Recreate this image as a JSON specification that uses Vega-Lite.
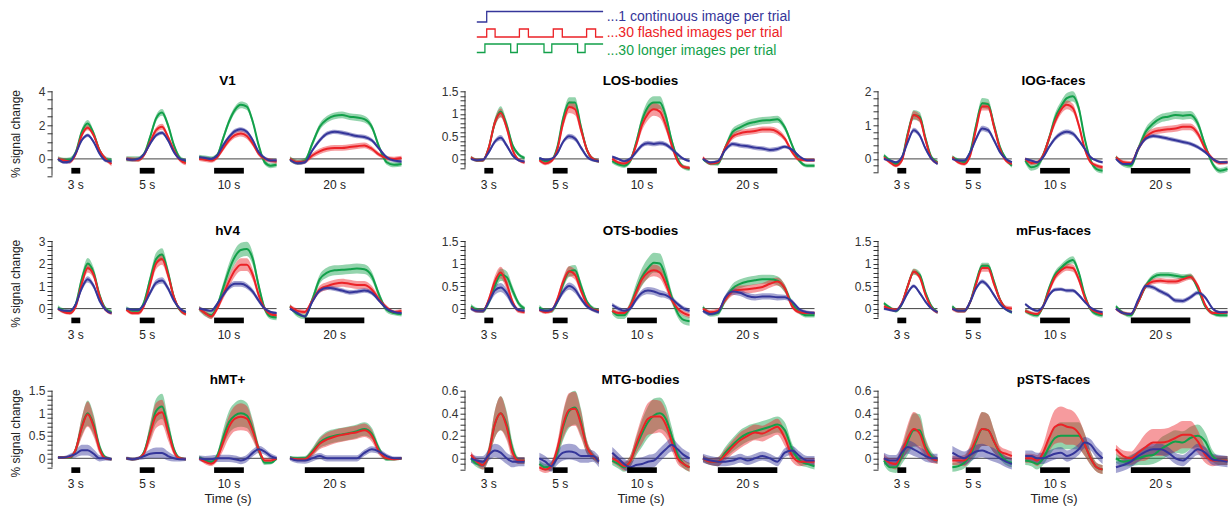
{
"$schema":"https://vega.github.io/schema/vega-lite/v6.json",
"autosize":{"type":"pad"},
"padding":{"left":8,"top":5,"right":0,"bottom":0},
"background":"#ffffff",
"config":{"view":{"stroke":null},"font":"Liberation Sans",
"title":{"font":"Liberation Sans","fontSize":13.5,"fontWeight":"bold","color":"#000","anchor":"middle","offset":-2,"frame":"group"},
"axis":{"grid":false,"domain":false,"labelFont":"Liberation Sans","labelFontSize":12,"labelColor":"#333","tickColor":"#333","tickSize":5,"labelPadding":2,"labelOverlap":false,"labelFlush":false,"titleFont":"Liberation Sans","titleFontWeight":"normal","titleColor":"#222"},
"axisY":{"titleFontSize":12,"titleX":-37,"titleBaseline":"middle"},
"axisX":{"titleFontSize":13,"titleY":23,"titleBaseline":"middle"},
"legend":{"disable":true}},
"datasets":{
"tr":[{"l":"3 s","s0":2,"s1":20,"o0":6.5,"o1":9.5,"m":8},{"l":"5 s","s0":25,"s1":45,"o0":29.5,"o1":34.5,"m":32},{"l":"10 s","s0":49.5,"s1":75.5,"o0":54.5,"o1":64.5,"m":59.5},{"l":"20 s","s0":80,"s1":117.5,"o0":85,"o1":105,"m":95}],
"leg":[{"c":"b","x":141.6,"y":6.6},{"c":"b","x":144.9,"y":8.7},{"c":"b","x":183.7,"y":8.7},
{"c":"r","x":141.6,"y":3.6},{"c":"r","x":144.9,"y":5.2},{"c":"r","x":147.7,"y":3.6},{"c":"r","x":155.8,"y":5.2},{"c":"r","x":158.8,"y":3.6},{"c":"r","x":167.1,"y":5.2},{"c":"r","x":170.1,"y":3.6},{"c":"r","x":178.2,"y":5.2},{"c":"r","x":181.2,"y":3.6},{"c":"r","x":183.7,"y":3.6},
{"c":"g","x":141.6,"y":0.5},{"c":"g","x":144.3,"y":2.2},{"c":"g","x":152.9,"y":0.5},{"c":"g","x":155.1,"y":2.2},{"c":"g","x":164,"y":0.5},{"c":"g","x":166.6,"y":2.2},{"c":"g","x":175.2,"y":0.5},{"c":"g","x":177.7,"y":2.2},{"c":"g","x":183.7,"y":2.2}],
"legt":[{"c":"b","x":184.9,"y":7.65,"t":"...1 continuous image per trial"},{"c":"r","x":184.9,"y":4.35,"t":"...30 flashed images per trial"},{"c":"g","x":184.9,"y":0.85,"t":"...30 longer images per trial"}],
"V1":[
{"s":3,"x":2,"g":0,"r":0,"b":0,"eg":0.15,"er":0.13,"eb":0.1},
{"s":3,"x":4,"g":-0.08,"r":-0.1,"b":-0.2,"eg":0.15,"er":0.13,"eb":0.1},
{"s":3,"x":6,"g":-0.05,"r":-0.15,"b":-0.15,"eg":0.15,"er":0.13,"eb":0.1},
{"s":3,"x":8,"g":0.4,"r":0.3,"b":0.35,"eg":0.15,"er":0.13,"eb":0.1},
{"s":3,"x":10,"g":1.6,"r":1.4,"b":1.1,"eg":0.18,"er":0.15,"eb":0.1},
{"s":3,"x":12,"g":2.1,"r":1.85,"b":1.4,"eg":0.2,"er":0.16,"eb":0.1},
{"s":3,"x":14,"g":1.5,"r":1.4,"b":1.0,"eg":0.18,"er":0.15,"eb":0.1},
{"s":3,"x":16,"g":0.5,"r":0.5,"b":0.3,"eg":0.15,"er":0.13,"eb":0.1},
{"s":3,"x":18,"g":0,"r":0,"b":-0.1,"eg":0.15,"er":0.13,"eb":0.1},
{"s":3,"x":20,"g":-0.1,"r":-0.3,"b":-0.15,"eg":0.15,"er":0.13,"eb":0.1},
{"s":5,"x":25,"g":0,"r":0,"b":0,"eg":0.15,"er":0.13,"eb":0.1},
{"s":5,"x":27,"g":0,"r":-0.03,"b":-0.05,"eg":0.15,"er":0.13,"eb":0.1},
{"s":5,"x":29,"g":0,"r":-0.05,"b":0,"eg":0.15,"er":0.13,"eb":0.1},
{"s":5,"x":31,"g":0.3,"r":0.25,"b":0.3,"eg":0.15,"er":0.13,"eb":0.1},
{"s":5,"x":33,"g":1.3,"r":1.0,"b":0.9,"eg":0.18,"er":0.15,"eb":0.1},
{"s":5,"x":35,"g":2.4,"r":1.7,"b":1.4,"eg":0.2,"er":0.18,"eb":0.12},
{"s":5,"x":37,"g":2.75,"r":1.9,"b":1.55,"eg":0.2,"er":0.18,"eb":0.12},
{"s":5,"x":39,"g":2.0,"r":1.3,"b":1.1,"eg":0.18,"er":0.15,"eb":0.1},
{"s":5,"x":41,"g":0.8,"r":0.5,"b":0.4,"eg":0.15,"er":0.13,"eb":0.1},
{"s":5,"x":43,"g":0.05,"r":-0.05,"b":0,"eg":0.15,"er":0.13,"eb":0.1},
{"s":5,"x":45,"g":-0.15,"r":-0.25,"b":-0.1,"eg":0.15,"er":0.13,"eb":0.1},
{"s":10,"x":49.5,"g":0.1,"r":0,"b":0.1,"eg":0.15,"er":0.13,"eb":0.1},
{"s":10,"x":51.5,"g":0.05,"r":-0.05,"b":0.05,"eg":0.15,"er":0.13,"eb":0.1},
{"s":10,"x":53.5,"g":0,"r":-0.1,"b":0,"eg":0.15,"er":0.13,"eb":0.1},
{"s":10,"x":55.5,"g":0.2,"r":0.1,"b":0.2,"eg":0.15,"er":0.13,"eb":0.1},
{"s":10,"x":57.5,"g":1.2,"r":0.6,"b":0.8,"eg":0.18,"er":0.15,"eb":0.12},
{"s":10,"x":59.5,"g":2.2,"r":1.1,"b":1.3,"eg":0.2,"er":0.17,"eb":0.13},
{"s":10,"x":61.5,"g":2.9,"r":1.4,"b":1.65,"eg":0.2,"er":0.17,"eb":0.13},
{"s":10,"x":63.5,"g":3.2,"r":1.5,"b":1.75,"eg":0.2,"er":0.17,"eb":0.13},
{"s":10,"x":65.5,"g":3.1,"r":1.35,"b":1.6,"eg":0.2,"er":0.17,"eb":0.13},
{"s":10,"x":67.5,"g":2.2,"r":0.9,"b":1.1,"eg":0.18,"er":0.15,"eb":0.12},
{"s":10,"x":69.5,"g":0.8,"r":0.3,"b":0.4,"eg":0.15,"er":0.13,"eb":0.1},
{"s":10,"x":71.5,"g":-0.2,"r":0,"b":0.05,"eg":0.15,"er":0.13,"eb":0.1},
{"s":10,"x":73.5,"g":-0.4,"r":-0.1,"b":-0.1,"eg":0.15,"er":0.13,"eb":0.1},
{"s":10,"x":75.5,"g":-0.35,"r":-0.15,"b":-0.1,"eg":0.15,"er":0.13,"eb":0.1},
{"s":20,"x":80,"g":0,"r":0,"b":-0.05,"eg":0.15,"er":0.13,"eb":0.1},
{"s":20,"x":82.5,"g":-0.2,"r":-0.2,"b":-0.25,"eg":0.15,"er":0.13,"eb":0.1},
{"s":20,"x":85,"g":-0.1,"r":-0.15,"b":-0.2,"eg":0.15,"er":0.13,"eb":0.1},
{"s":20,"x":87.5,"g":0.9,"r":0.2,"b":0.5,"eg":0.18,"er":0.15,"eb":0.12},
{"s":20,"x":90,"g":1.9,"r":0.45,"b":1.1,"eg":0.2,"er":0.17,"eb":0.13},
{"s":20,"x":92.5,"g":2.35,"r":0.6,"b":1.5,"eg":0.2,"er":0.17,"eb":0.13},
{"s":20,"x":95,"g":2.55,"r":0.65,"b":1.6,"eg":0.2,"er":0.17,"eb":0.13},
{"s":20,"x":97.5,"g":2.6,"r":0.65,"b":1.55,"eg":0.2,"er":0.17,"eb":0.13},
{"s":20,"x":100,"g":2.5,"r":0.7,"b":1.45,"eg":0.2,"er":0.17,"eb":0.13},
{"s":20,"x":102.5,"g":2.45,"r":0.75,"b":1.35,"eg":0.2,"er":0.17,"eb":0.13},
{"s":20,"x":105,"g":2.35,"r":0.8,"b":1.3,"eg":0.2,"er":0.17,"eb":0.13},
{"s":20,"x":107.5,"g":1.9,"r":0.6,"b":1.1,"eg":0.18,"er":0.15,"eb":0.12},
{"s":20,"x":110,"g":0.7,"r":0.25,"b":0.6,"eg":0.15,"er":0.13,"eb":0.1},
{"s":20,"x":112.5,"g":-0.2,"r":0.05,"b":0.1,"eg":0.15,"er":0.13,"eb":0.1},
{"s":20,"x":115,"g":-0.35,"r":0,"b":-0.1,"eg":0.15,"er":0.13,"eb":0.1},
{"s":20,"x":117.5,"g":-0.3,"r":0.05,"b":-0.15,"eg":0.15,"er":0.13,"eb":0.1}],
"LOS":[
{"s":3,"x":2,"g":0.03,"r":0.03,"b":0,"eg":0.04,"er":0.04,"eb":0.03},
{"s":3,"x":4,"g":-0.03,"r":-0.03,"b":-0.03,"eg":0.04,"er":0.04,"eb":0.03},
{"s":3,"x":6,"g":-0.03,"r":-0.03,"b":-0.02,"eg":0.04,"er":0.04,"eb":0.03},
{"s":3,"x":8,"g":0.25,"r":0.25,"b":0.15,"eg":0.06,"er":0.06,"eb":0.04},
{"s":3,"x":10,"g":0.8,"r":0.8,"b":0.38,"eg":0.1,"er":0.09,"eb":0.05},
{"s":3,"x":12,"g":1.05,"r":1.02,"b":0.47,"eg":0.12,"er":0.1,"eb":0.06},
{"s":3,"x":14,"g":0.75,"r":0.7,"b":0.3,"eg":0.1,"er":0.09,"eb":0.05},
{"s":3,"x":16,"g":0.3,"r":0.2,"b":0.08,"eg":0.06,"er":0.06,"eb":0.04},
{"s":3,"x":18,"g":0.1,"r":-0.02,"b":-0.03,"eg":0.04,"er":0.04,"eb":0.03},
{"s":3,"x":20,"g":0.02,"r":-0.08,"b":-0.06,"eg":0.04,"er":0.04,"eb":0.03},
{"s":5,"x":25,"g":0,"r":-0.03,"b":0.02,"eg":0.04,"er":0.04,"eb":0.03},
{"s":5,"x":27,"g":-0.05,"r":-0.1,"b":-0.02,"eg":0.04,"er":0.04,"eb":0.03},
{"s":5,"x":29,"g":-0.03,"r":-0.05,"b":0,"eg":0.04,"er":0.04,"eb":0.03},
{"s":5,"x":31,"g":0.25,"r":0.2,"b":0.12,"eg":0.06,"er":0.06,"eb":0.04},
{"s":5,"x":33,"g":0.9,"r":0.8,"b":0.38,"eg":0.1,"er":0.1,"eb":0.05},
{"s":5,"x":35,"g":1.25,"r":1.15,"b":0.5,"eg":0.12,"er":0.13,"eb":0.06},
{"s":5,"x":37,"g":1.25,"r":1.1,"b":0.45,"eg":0.12,"er":0.13,"eb":0.06},
{"s":5,"x":39,"g":0.7,"r":0.65,"b":0.25,"eg":0.1,"er":0.1,"eb":0.05},
{"s":5,"x":41,"g":0.2,"r":0.2,"b":0.05,"eg":0.06,"er":0.06,"eb":0.04},
{"s":5,"x":43,"g":0,"r":0,"b":-0.03,"eg":0.04,"er":0.04,"eb":0.03},
{"s":5,"x":45,"g":-0.05,"r":-0.05,"b":-0.05,"eg":0.04,"er":0.04,"eb":0.03},
{"s":10,"x":49.5,"g":-0.05,"r":0,"b":0.05,"eg":0.05,"er":0.04,"eb":0.03},
{"s":10,"x":51.5,"g":-0.12,"r":-0.08,"b":0,"eg":0.05,"er":0.04,"eb":0.03},
{"s":10,"x":53.5,"g":-0.15,"r":-0.1,"b":-0.05,"eg":0.05,"er":0.04,"eb":0.03},
{"s":10,"x":55.5,"g":-0.05,"r":-0.03,"b":0,"eg":0.06,"er":0.05,"eb":0.04},
{"s":10,"x":57.5,"g":0.35,"r":0.3,"b":0.15,"eg":0.08,"er":0.08,"eb":0.05},
{"s":10,"x":59.5,"g":0.85,"r":0.75,"b":0.3,"eg":0.12,"er":0.12,"eb":0.05},
{"s":10,"x":61.5,"g":1.15,"r":1.0,"b":0.35,"eg":0.14,"er":0.14,"eb":0.05},
{"s":10,"x":63.5,"g":1.25,"r":1.1,"b":0.33,"eg":0.14,"er":0.14,"eb":0.05},
{"s":10,"x":65.5,"g":1.25,"r":1.05,"b":0.35,"eg":0.14,"er":0.14,"eb":0.05},
{"s":10,"x":67.5,"g":0.95,"r":0.75,"b":0.32,"eg":0.12,"er":0.12,"eb":0.05},
{"s":10,"x":69.5,"g":0.4,"r":0.3,"b":0.22,"eg":0.08,"er":0.08,"eb":0.05},
{"s":10,"x":71.5,"g":0,"r":-0.05,"b":0.1,"eg":0.05,"er":0.05,"eb":0.04},
{"s":10,"x":73.5,"g":-0.18,"r":-0.18,"b":0,"eg":0.05,"er":0.04,"eb":0.03},
{"s":10,"x":75.5,"g":-0.22,"r":-0.2,"b":-0.05,"eg":0.05,"er":0.04,"eb":0.03},
{"s":20,"x":80,"g":0,"r":0.03,"b":0,"eg":0.04,"er":0.04,"eb":0.03},
{"s":20,"x":82.5,"g":-0.1,"r":-0.1,"b":-0.08,"eg":0.04,"er":0.04,"eb":0.03},
{"s":20,"x":85,"g":-0.1,"r":-0.08,"b":-0.05,"eg":0.05,"er":0.04,"eb":0.03},
{"s":20,"x":87.5,"g":0.25,"r":0.25,"b":0.2,"eg":0.07,"er":0.06,"eb":0.04},
{"s":20,"x":90,"g":0.6,"r":0.5,"b":0.33,"eg":0.08,"er":0.07,"eb":0.05},
{"s":20,"x":92.5,"g":0.7,"r":0.57,"b":0.3,"eg":0.08,"er":0.07,"eb":0.05},
{"s":20,"x":95,"g":0.78,"r":0.6,"b":0.28,"eg":0.08,"er":0.07,"eb":0.05},
{"s":20,"x":97.5,"g":0.82,"r":0.62,"b":0.25,"eg":0.08,"er":0.07,"eb":0.05},
{"s":20,"x":100,"g":0.85,"r":0.65,"b":0.23,"eg":0.08,"er":0.07,"eb":0.05},
{"s":20,"x":102.5,"g":0.86,"r":0.65,"b":0.2,"eg":0.08,"er":0.07,"eb":0.05},
{"s":20,"x":105,"g":0.88,"r":0.6,"b":0.22,"eg":0.08,"er":0.07,"eb":0.05},
{"s":20,"x":107.5,"g":0.7,"r":0.45,"b":0.27,"eg":0.07,"er":0.06,"eb":0.04},
{"s":20,"x":110,"g":0.3,"r":0.15,"b":0.2,"eg":0.05,"er":0.05,"eb":0.04},
{"s":20,"x":112.5,"g":-0.05,"r":-0.02,"b":0.05,"eg":0.04,"er":0.04,"eb":0.03},
{"s":20,"x":115,"g":-0.15,"r":-0.03,"b":-0.03,"eg":0.04,"er":0.04,"eb":0.03},
{"s":20,"x":117.5,"g":-0.15,"r":-0.03,"b":-0.03,"eg":0.04,"er":0.04,"eb":0.03}],
"IOG":[
{"s":3,"x":2,"g":0.1,"r":0.05,"b":0,"eg":0.06,"er":0.05,"eb":0.04},
{"s":3,"x":4,"g":-0.05,"r":-0.1,"b":-0.05,"eg":0.06,"er":0.05,"eb":0.04},
{"s":3,"x":6,"g":-0.15,"r":-0.2,"b":-0.1,"eg":0.06,"er":0.05,"eb":0.04},
{"s":3,"x":8,"g":0,"r":-0.05,"b":0.05,"eg":0.08,"er":0.07,"eb":0.05},
{"s":3,"x":10,"g":0.75,"r":0.7,"b":0.5,"eg":0.12,"er":0.1,"eb":0.06},
{"s":3,"x":12,"g":1.3,"r":1.3,"b":0.85,"eg":0.15,"er":0.12,"eb":0.07},
{"s":3,"x":14,"g":1.25,"r":1.2,"b":0.7,"eg":0.14,"er":0.12,"eb":0.07},
{"s":3,"x":16,"g":0.6,"r":0.55,"b":0.3,"eg":0.1,"er":0.08,"eb":0.05},
{"s":3,"x":18,"g":0.05,"r":0,"b":0,"eg":0.06,"er":0.05,"eb":0.04},
{"s":3,"x":20,"g":-0.1,"r":-0.12,"b":-0.15,"eg":0.06,"er":0.05,"eb":0.04},
{"s":5,"x":25,"g":0.05,"r":0.05,"b":0,"eg":0.06,"er":0.05,"eb":0.04},
{"s":5,"x":27,"g":-0.05,"r":-0.1,"b":-0.05,"eg":0.06,"er":0.05,"eb":0.04},
{"s":5,"x":29,"g":-0.1,"r":-0.15,"b":-0.05,"eg":0.06,"er":0.05,"eb":0.04},
{"s":5,"x":31,"g":0.2,"r":0.1,"b":0.2,"eg":0.08,"er":0.07,"eb":0.05},
{"s":5,"x":33,"g":1.0,"r":0.9,"b":0.6,"eg":0.12,"er":0.1,"eb":0.07},
{"s":5,"x":35,"g":1.65,"r":1.55,"b":0.9,"eg":0.15,"er":0.12,"eb":0.08},
{"s":5,"x":37,"g":1.62,"r":1.55,"b":0.85,"eg":0.15,"er":0.12,"eb":0.08},
{"s":5,"x":39,"g":1.0,"r":0.95,"b":0.55,"eg":0.12,"er":0.1,"eb":0.07},
{"s":5,"x":41,"g":0.35,"r":0.3,"b":0.2,"eg":0.08,"er":0.07,"eb":0.05},
{"s":5,"x":43,"g":0,"r":-0.05,"b":0,"eg":0.06,"er":0.05,"eb":0.04},
{"s":5,"x":45,"g":-0.2,"r":-0.15,"b":-0.1,"eg":0.06,"er":0.05,"eb":0.04},
{"s":10,"x":49.5,"g":-0.05,"r":0,"b":0,"eg":0.08,"er":0.05,"eb":0.04},
{"s":10,"x":51.5,"g":-0.25,"r":-0.12,"b":-0.05,"eg":0.1,"er":0.06,"eb":0.04},
{"s":10,"x":53.5,"g":-0.2,"r":-0.1,"b":-0.1,"eg":0.1,"er":0.06,"eb":0.04},
{"s":10,"x":55.5,"g":0.1,"r":0.1,"b":0.05,"eg":0.1,"er":0.08,"eb":0.05},
{"s":10,"x":57.5,"g":0.6,"r":0.6,"b":0.35,"eg":0.12,"er":0.1,"eb":0.06},
{"s":10,"x":59.5,"g":1.2,"r":1.1,"b":0.6,"eg":0.15,"er":0.12,"eb":0.07},
{"s":10,"x":61.5,"g":1.55,"r":1.45,"b":0.75,"eg":0.15,"er":0.13,"eb":0.07},
{"s":10,"x":63.5,"g":1.8,"r":1.6,"b":0.8,"eg":0.15,"er":0.13,"eb":0.07},
{"s":10,"x":65.5,"g":1.85,"r":1.5,"b":0.75,"eg":0.15,"er":0.13,"eb":0.07},
{"s":10,"x":67.5,"g":1.5,"r":1.0,"b":0.55,"eg":0.13,"er":0.11,"eb":0.06},
{"s":10,"x":69.5,"g":0.6,"r":0.3,"b":0.3,"eg":0.1,"er":0.08,"eb":0.05},
{"s":10,"x":71.5,"g":-0.05,"r":-0.1,"b":0.05,"eg":0.08,"er":0.06,"eb":0.04},
{"s":10,"x":73.5,"g":-0.3,"r":-0.2,"b":-0.05,"eg":0.08,"er":0.06,"eb":0.04},
{"s":10,"x":75.5,"g":-0.35,"r":-0.25,"b":-0.1,"eg":0.08,"er":0.06,"eb":0.04},
{"s":20,"x":80,"g":0.05,"r":0.05,"b":0,"eg":0.06,"er":0.05,"eb":0.04},
{"s":20,"x":82.5,"g":-0.15,"r":-0.1,"b":-0.15,"eg":0.08,"er":0.06,"eb":0.05},
{"s":20,"x":85,"g":-0.2,"r":-0.12,"b":-0.15,"eg":0.08,"er":0.06,"eb":0.05},
{"s":20,"x":87.5,"g":0.3,"r":0.3,"b":0.3,"eg":0.1,"er":0.08,"eb":0.06},
{"s":20,"x":90,"g":0.8,"r":0.65,"b":0.6,"eg":0.12,"er":0.1,"eb":0.06},
{"s":20,"x":92.5,"g":1.05,"r":0.8,"b":0.68,"eg":0.12,"er":0.1,"eb":0.06},
{"s":20,"x":95,"g":1.2,"r":0.85,"b":0.65,"eg":0.12,"er":0.1,"eb":0.06},
{"s":20,"x":97.5,"g":1.25,"r":0.88,"b":0.6,"eg":0.12,"er":0.1,"eb":0.06},
{"s":20,"x":100,"g":1.3,"r":0.9,"b":0.55,"eg":0.12,"er":0.1,"eb":0.06},
{"s":20,"x":102.5,"g":1.28,"r":0.95,"b":0.5,"eg":0.12,"er":0.1,"eb":0.06},
{"s":20,"x":105,"g":1.3,"r":0.95,"b":0.45,"eg":0.12,"er":0.1,"eb":0.06},
{"s":20,"x":107.5,"g":1.05,"r":0.75,"b":0.35,"eg":0.12,"er":0.1,"eb":0.06},
{"s":20,"x":110,"g":0.4,"r":0.3,"b":0.2,"eg":0.1,"er":0.08,"eb":0.05},
{"s":20,"x":112.5,"g":-0.15,"r":0,"b":0,"eg":0.08,"er":0.06,"eb":0.04},
{"s":20,"x":115,"g":-0.35,"r":-0.12,"b":-0.1,"eg":0.08,"er":0.06,"eb":0.04},
{"s":20,"x":117.5,"g":-0.3,"r":-0.1,"b":-0.1,"eg":0.08,"er":0.06,"eb":0.04}],
"hV4":[
{"s":3,"x":2,"g":0.05,"r":0,"b":0,"eg":0.1,"er":0.08,"eb":0.06},
{"s":3,"x":4,"g":-0.1,"r":-0.15,"b":-0.1,"eg":0.1,"er":0.08,"eb":0.06},
{"s":3,"x":6,"g":-0.15,"r":-0.2,"b":-0.1,"eg":0.1,"er":0.08,"eb":0.06},
{"s":3,"x":8,"g":0.2,"r":0.1,"b":0.2,"eg":0.12,"er":0.1,"eb":0.08},
{"s":3,"x":10,"g":1.3,"r":1.1,"b":0.9,"eg":0.2,"er":0.16,"eb":0.12},
{"s":3,"x":12,"g":2.0,"r":1.8,"b":1.3,"eg":0.25,"er":0.2,"eb":0.14},
{"s":3,"x":14,"g":1.6,"r":1.5,"b":1.0,"eg":0.22,"er":0.18,"eb":0.12},
{"s":3,"x":16,"g":0.6,"r":0.55,"b":0.35,"eg":0.15,"er":0.12,"eb":0.1},
{"s":3,"x":18,"g":0,"r":-0.05,"b":-0.05,"eg":0.1,"er":0.08,"eb":0.06},
{"s":3,"x":20,"g":-0.15,"r":-0.2,"b":-0.2,"eg":0.1,"er":0.08,"eb":0.06},
{"s":5,"x":25,"g":0,"r":-0.05,"b":0,"eg":0.1,"er":0.08,"eb":0.06},
{"s":5,"x":27,"g":-0.1,"r":-0.2,"b":-0.05,"eg":0.1,"er":0.08,"eb":0.06},
{"s":5,"x":29,"g":-0.1,"r":-0.2,"b":-0.05,"eg":0.1,"er":0.08,"eb":0.06},
{"s":5,"x":31,"g":0.3,"r":0.15,"b":0.2,"eg":0.14,"er":0.12,"eb":0.08},
{"s":5,"x":33,"g":1.3,"r":1.1,"b":0.7,"eg":0.22,"er":0.2,"eb":0.12},
{"s":5,"x":35,"g":2.2,"r":2.0,"b":1.15,"eg":0.28,"er":0.25,"eb":0.14},
{"s":5,"x":37,"g":2.4,"r":2.2,"b":1.25,"eg":0.28,"er":0.25,"eb":0.14},
{"s":5,"x":39,"g":1.6,"r":1.5,"b":0.9,"eg":0.22,"er":0.2,"eb":0.12},
{"s":5,"x":41,"g":0.5,"r":0.5,"b":0.35,"eg":0.14,"er":0.12,"eb":0.08},
{"s":5,"x":43,"g":-0.05,"r":-0.05,"b":0,"eg":0.1,"er":0.08,"eb":0.06},
{"s":5,"x":45,"g":-0.2,"r":-0.25,"b":-0.15,"eg":0.1,"er":0.08,"eb":0.06},
{"s":10,"x":49.5,"g":0,"r":0,"b":0,"eg":0.12,"er":0.1,"eb":0.06},
{"s":10,"x":51.5,"g":-0.2,"r":-0.2,"b":-0.05,"eg":0.15,"er":0.12,"eb":0.06},
{"s":10,"x":53.5,"g":-0.3,"r":-0.35,"b":-0.1,"eg":0.15,"er":0.12,"eb":0.06},
{"s":10,"x":55.5,"g":0.1,"r":0,"b":0.2,"eg":0.15,"er":0.12,"eb":0.08},
{"s":10,"x":57.5,"g":0.9,"r":0.6,"b":0.6,"eg":0.22,"er":0.2,"eb":0.1},
{"s":10,"x":59.5,"g":1.7,"r":1.2,"b":0.95,"eg":0.3,"er":0.25,"eb":0.12},
{"s":10,"x":61.5,"g":2.3,"r":1.7,"b":1.1,"eg":0.32,"er":0.27,"eb":0.13},
{"s":10,"x":63.5,"g":2.6,"r":1.95,"b":1.1,"eg":0.32,"er":0.28,"eb":0.13},
{"s":10,"x":65.5,"g":2.65,"r":1.95,"b":1.0,"eg":0.32,"er":0.28,"eb":0.13},
{"s":10,"x":67.5,"g":2.2,"r":1.5,"b":0.75,"eg":0.28,"er":0.24,"eb":0.12},
{"s":10,"x":69.5,"g":1.0,"r":0.6,"b":0.35,"eg":0.2,"er":0.16,"eb":0.1},
{"s":10,"x":71.5,"g":0,"r":0,"b":0,"eg":0.14,"er":0.1,"eb":0.07},
{"s":10,"x":73.5,"g":-0.35,"r":-0.25,"b":-0.15,"eg":0.12,"er":0.1,"eb":0.06},
{"s":10,"x":75.5,"g":-0.4,"r":-0.3,"b":-0.2,"eg":0.12,"er":0.1,"eb":0.06},
{"s":20,"x":80,"g":0.1,"r":0.1,"b":0,"eg":0.1,"er":0.08,"eb":0.06},
{"s":20,"x":82.5,"g":-0.25,"r":-0.1,"b":-0.2,"eg":0.12,"er":0.1,"eb":0.06},
{"s":20,"x":85,"g":-0.35,"r":-0.15,"b":-0.35,"eg":0.12,"er":0.1,"eb":0.06},
{"s":20,"x":87.5,"g":0.4,"r":0.35,"b":0.3,"eg":0.15,"er":0.12,"eb":0.08},
{"s":20,"x":90,"g":1.3,"r":0.85,"b":0.8,"eg":0.2,"er":0.16,"eb":0.1},
{"s":20,"x":92.5,"g":1.6,"r":1.0,"b":0.92,"eg":0.22,"er":0.18,"eb":0.1},
{"s":20,"x":95,"g":1.7,"r":1.1,"b":0.88,"eg":0.22,"er":0.18,"eb":0.1},
{"s":20,"x":97.5,"g":1.72,"r":1.15,"b":0.8,"eg":0.22,"er":0.18,"eb":0.1},
{"s":20,"x":100,"g":1.75,"r":1.1,"b":0.72,"eg":0.22,"er":0.18,"eb":0.1},
{"s":20,"x":102.5,"g":1.78,"r":1.05,"b":0.75,"eg":0.22,"er":0.18,"eb":0.1},
{"s":20,"x":105,"g":1.75,"r":1.05,"b":0.8,"eg":0.22,"er":0.18,"eb":0.1},
{"s":20,"x":107.5,"g":1.45,"r":0.85,"b":0.7,"eg":0.2,"er":0.16,"eb":0.1},
{"s":20,"x":110,"g":0.6,"r":0.4,"b":0.35,"eg":0.15,"er":0.12,"eb":0.08},
{"s":20,"x":112.5,"g":-0.05,"r":0.05,"b":0,"eg":0.12,"er":0.1,"eb":0.06},
{"s":20,"x":115,"g":-0.2,"r":-0.15,"b":-0.15,"eg":0.1,"er":0.08,"eb":0.06},
{"s":20,"x":117.5,"g":-0.25,"r":-0.1,"b":-0.2,"eg":0.1,"er":0.08,"eb":0.06}],
"OTS":[
{"s":3,"x":2,"g":0.05,"r":0.02,"b":0,"eg":0.05,"er":0.04,"eb":0.04},
{"s":3,"x":4,"g":-0.03,"r":-0.05,"b":-0.05,"eg":0.05,"er":0.04,"eb":0.04},
{"s":3,"x":6,"g":-0.05,"r":-0.05,"b":-0.05,"eg":0.05,"er":0.04,"eb":0.04},
{"s":3,"x":8,"g":0.15,"r":0.2,"b":0.15,"eg":0.08,"er":0.07,"eb":0.06},
{"s":3,"x":10,"g":0.5,"r":0.6,"b":0.4,"eg":0.12,"er":0.12,"eb":0.1},
{"s":3,"x":12,"g":0.75,"r":0.8,"b":0.47,"eg":0.14,"er":0.13,"eb":0.1},
{"s":3,"x":14,"g":0.7,"r":0.55,"b":0.35,"eg":0.13,"er":0.12,"eb":0.09},
{"s":3,"x":16,"g":0.4,"r":0.15,"b":0.1,"eg":0.1,"er":0.07,"eb":0.06},
{"s":3,"x":18,"g":0.12,"r":-0.05,"b":-0.03,"eg":0.06,"er":0.05,"eb":0.04},
{"s":3,"x":20,"g":0,"r":-0.08,"b":-0.05,"eg":0.05,"er":0.04,"eb":0.04},
{"s":5,"x":25,"g":0.03,"r":-0.03,"b":-0.02,"eg":0.05,"er":0.04,"eb":0.04},
{"s":5,"x":27,"g":-0.05,"r":-0.08,"b":-0.05,"eg":0.05,"er":0.04,"eb":0.04},
{"s":5,"x":29,"g":-0.05,"r":-0.05,"b":-0.03,"eg":0.05,"er":0.04,"eb":0.04},
{"s":5,"x":31,"g":0.15,"r":0.2,"b":0.15,"eg":0.07,"er":0.07,"eb":0.05},
{"s":5,"x":33,"g":0.55,"r":0.6,"b":0.38,"eg":0.1,"er":0.1,"eb":0.07},
{"s":5,"x":35,"g":0.82,"r":0.83,"b":0.5,"eg":0.12,"er":0.11,"eb":0.08},
{"s":5,"x":37,"g":0.85,"r":0.75,"b":0.42,"eg":0.12,"er":0.11,"eb":0.08},
{"s":5,"x":39,"g":0.5,"r":0.4,"b":0.22,"eg":0.1,"er":0.08,"eb":0.06},
{"s":5,"x":41,"g":0.15,"r":0.1,"b":0.05,"eg":0.06,"er":0.05,"eb":0.04},
{"s":5,"x":43,"g":0,"r":-0.02,"b":-0.03,"eg":0.05,"er":0.04,"eb":0.04},
{"s":5,"x":45,"g":-0.05,"r":-0.05,"b":-0.08,"eg":0.05,"er":0.04,"eb":0.04},
{"s":10,"x":49.5,"g":-0.05,"r":-0.05,"b":0.08,"eg":0.08,"er":0.05,"eb":0.05},
{"s":10,"x":51.5,"g":-0.15,"r":-0.1,"b":0,"eg":0.08,"er":0.05,"eb":0.05},
{"s":10,"x":53.5,"g":-0.15,"r":-0.1,"b":-0.05,"eg":0.08,"er":0.05,"eb":0.05},
{"s":10,"x":55.5,"g":0.05,"r":0.05,"b":0,"eg":0.1,"er":0.07,"eb":0.05},
{"s":10,"x":57.5,"g":0.4,"r":0.35,"b":0.2,"eg":0.15,"er":0.1,"eb":0.06},
{"s":10,"x":59.5,"g":0.7,"r":0.65,"b":0.35,"eg":0.2,"er":0.12,"eb":0.07},
{"s":10,"x":61.5,"g":0.9,"r":0.8,"b":0.4,"eg":0.22,"er":0.13,"eb":0.08},
{"s":10,"x":63.5,"g":1.02,"r":0.85,"b":0.38,"eg":0.22,"er":0.13,"eb":0.08},
{"s":10,"x":65.5,"g":1.0,"r":0.8,"b":0.33,"eg":0.22,"er":0.13,"eb":0.08},
{"s":10,"x":67.5,"g":0.7,"r":0.55,"b":0.3,"eg":0.18,"er":0.12,"eb":0.07},
{"s":10,"x":69.5,"g":0.25,"r":0.2,"b":0.22,"eg":0.12,"er":0.08,"eb":0.06},
{"s":10,"x":71.5,"g":-0.1,"r":0,"b":0.1,"eg":0.1,"er":0.06,"eb":0.05},
{"s":10,"x":73.5,"g":-0.25,"r":-0.1,"b":0,"eg":0.1,"er":0.06,"eb":0.05},
{"s":10,"x":75.5,"g":-0.28,"r":-0.15,"b":-0.05,"eg":0.1,"er":0.06,"eb":0.05},
{"s":20,"x":80,"g":0.03,"r":0,"b":-0.05,"eg":0.05,"er":0.04,"eb":0.04},
{"s":20,"x":82.5,"g":-0.12,"r":-0.08,"b":-0.12,"eg":0.06,"er":0.05,"eb":0.04},
{"s":20,"x":85,"g":-0.1,"r":-0.05,"b":-0.08,"eg":0.06,"er":0.05,"eb":0.04},
{"s":20,"x":87.5,"g":0.2,"r":0.2,"b":0.25,"eg":0.08,"er":0.07,"eb":0.06},
{"s":20,"x":90,"g":0.45,"r":0.38,"b":0.38,"eg":0.1,"er":0.09,"eb":0.07},
{"s":20,"x":92.5,"g":0.55,"r":0.42,"b":0.35,"eg":0.1,"er":0.09,"eb":0.07},
{"s":20,"x":95,"g":0.6,"r":0.43,"b":0.28,"eg":0.1,"er":0.09,"eb":0.07},
{"s":20,"x":97.5,"g":0.63,"r":0.45,"b":0.25,"eg":0.1,"er":0.09,"eb":0.07},
{"s":20,"x":100,"g":0.65,"r":0.48,"b":0.27,"eg":0.1,"er":0.09,"eb":0.07},
{"s":20,"x":102.5,"g":0.65,"r":0.55,"b":0.27,"eg":0.1,"er":0.09,"eb":0.07},
{"s":20,"x":105,"g":0.62,"r":0.6,"b":0.25,"eg":0.1,"er":0.09,"eb":0.07},
{"s":20,"x":107.5,"g":0.45,"r":0.45,"b":0.25,"eg":0.09,"er":0.08,"eb":0.06},
{"s":20,"x":110,"g":0.1,"r":0.05,"b":0.15,"eg":0.07,"er":0.06,"eb":0.05},
{"s":20,"x":112.5,"g":-0.08,"r":-0.08,"b":-0.02,"eg":0.05,"er":0.04,"eb":0.04},
{"s":20,"x":115,"g":-0.15,"r":-0.1,"b":-0.08,"eg":0.05,"er":0.04,"eb":0.04},
{"s":20,"x":117.5,"g":-0.15,"r":-0.1,"b":-0.1,"eg":0.05,"er":0.04,"eb":0.04}],
"mFus":[
{"s":3,"x":2,"g":0.12,"r":0.05,"b":0,"eg":0.04,"er":0.04,"eb":0.03},
{"s":3,"x":4,"g":0.02,"r":0,"b":-0.03,"eg":0.04,"er":0.04,"eb":0.03},
{"s":3,"x":6,"g":-0.05,"r":-0.03,"b":-0.05,"eg":0.04,"er":0.04,"eb":0.03},
{"s":3,"x":8,"g":0.1,"r":0.12,"b":0.1,"eg":0.05,"er":0.05,"eb":0.03},
{"s":3,"x":10,"g":0.5,"r":0.5,"b":0.35,"eg":0.06,"er":0.06,"eb":0.04},
{"s":3,"x":12,"g":0.82,"r":0.82,"b":0.5,"eg":0.07,"er":0.06,"eb":0.04},
{"s":3,"x":14,"g":0.75,"r":0.7,"b":0.35,"eg":0.07,"er":0.06,"eb":0.04},
{"s":3,"x":16,"g":0.35,"r":0.3,"b":0.15,"eg":0.05,"er":0.05,"eb":0.03},
{"s":3,"x":18,"g":0.05,"r":0.02,"b":0,"eg":0.04,"er":0.04,"eb":0.03},
{"s":3,"x":20,"g":-0.08,"r":-0.08,"b":-0.08,"eg":0.04,"er":0.04,"eb":0.03},
{"s":5,"x":25,"g":0.05,"r":0,"b":0,"eg":0.04,"er":0.05,"eb":0.03},
{"s":5,"x":27,"g":-0.05,"r":-0.05,"b":-0.05,"eg":0.04,"er":0.05,"eb":0.03},
{"s":5,"x":29,"g":-0.05,"r":-0.05,"b":-0.05,"eg":0.04,"er":0.05,"eb":0.03},
{"s":5,"x":31,"g":0.15,"r":0.15,"b":0.15,"eg":0.05,"er":0.05,"eb":0.04},
{"s":5,"x":33,"g":0.6,"r":0.55,"b":0.45,"eg":0.06,"er":0.07,"eb":0.04},
{"s":5,"x":35,"g":0.95,"r":0.9,"b":0.6,"eg":0.07,"er":0.08,"eb":0.05},
{"s":5,"x":37,"g":0.95,"r":0.9,"b":0.5,"eg":0.07,"er":0.08,"eb":0.05},
{"s":5,"x":39,"g":0.6,"r":0.55,"b":0.3,"eg":0.06,"er":0.07,"eb":0.04},
{"s":5,"x":41,"g":0.2,"r":0.2,"b":0.1,"eg":0.05,"er":0.05,"eb":0.03},
{"s":5,"x":43,"g":0,"r":0.02,"b":-0.02,"eg":0.04,"er":0.05,"eb":0.03},
{"s":5,"x":45,"g":-0.08,"r":0,"b":-0.08,"eg":0.04,"er":0.05,"eb":0.03},
{"s":10,"x":49.5,"g":-0.05,"r":-0.05,"b":0.1,"eg":0.05,"er":0.04,"eb":0.03},
{"s":10,"x":51.5,"g":-0.12,"r":-0.1,"b":0,"eg":0.05,"er":0.04,"eb":0.03},
{"s":10,"x":53.5,"g":-0.15,"r":-0.12,"b":-0.05,"eg":0.05,"er":0.04,"eb":0.03},
{"s":10,"x":55.5,"g":0.05,"r":0.05,"b":0.05,"eg":0.05,"er":0.05,"eb":0.03},
{"s":10,"x":57.5,"g":0.45,"r":0.4,"b":0.3,"eg":0.07,"er":0.07,"eb":0.04},
{"s":10,"x":59.5,"g":0.75,"r":0.7,"b":0.42,"eg":0.08,"er":0.08,"eb":0.04},
{"s":10,"x":61.5,"g":0.9,"r":0.85,"b":0.43,"eg":0.08,"er":0.08,"eb":0.04},
{"s":10,"x":63.5,"g":1.02,"r":0.92,"b":0.4,"eg":0.08,"er":0.08,"eb":0.04},
{"s":10,"x":65.5,"g":1.08,"r":0.9,"b":0.4,"eg":0.08,"er":0.08,"eb":0.04},
{"s":10,"x":67.5,"g":0.8,"r":0.65,"b":0.3,"eg":0.07,"er":0.07,"eb":0.04},
{"s":10,"x":69.5,"g":0.3,"r":0.25,"b":0.15,"eg":0.06,"er":0.05,"eb":0.03},
{"s":10,"x":71.5,"g":-0.02,"r":0,"b":0.02,"eg":0.05,"er":0.04,"eb":0.03},
{"s":10,"x":73.5,"g":-0.12,"r":-0.08,"b":-0.05,"eg":0.05,"er":0.04,"eb":0.03},
{"s":10,"x":75.5,"g":-0.15,"r":-0.12,"b":-0.08,"eg":0.05,"er":0.04,"eb":0.03},
{"s":20,"x":80,"g":0.05,"r":0,"b":0,"eg":0.04,"er":0.04,"eb":0.03},
{"s":20,"x":82.5,"g":-0.1,"r":-0.1,"b":-0.1,"eg":0.04,"er":0.04,"eb":0.03},
{"s":20,"x":85,"g":-0.15,"r":-0.12,"b":-0.12,"eg":0.05,"er":0.04,"eb":0.03},
{"s":20,"x":87.5,"g":0.15,"r":0.15,"b":0.2,"eg":0.05,"er":0.05,"eb":0.04},
{"s":20,"x":90,"g":0.5,"r":0.5,"b":0.5,"eg":0.06,"er":0.06,"eb":0.05},
{"s":20,"x":92.5,"g":0.7,"r":0.6,"b":0.47,"eg":0.06,"er":0.06,"eb":0.05},
{"s":20,"x":95,"g":0.75,"r":0.62,"b":0.38,"eg":0.06,"er":0.06,"eb":0.05},
{"s":20,"x":97.5,"g":0.75,"r":0.6,"b":0.3,"eg":0.06,"er":0.06,"eb":0.05},
{"s":20,"x":100,"g":0.73,"r":0.6,"b":0.18,"eg":0.06,"er":0.06,"eb":0.05},
{"s":20,"x":102.5,"g":0.7,"r":0.65,"b":0.17,"eg":0.06,"er":0.06,"eb":0.05},
{"s":20,"x":105,"g":0.72,"r":0.7,"b":0.25,"eg":0.06,"er":0.06,"eb":0.05},
{"s":20,"x":107.5,"g":0.45,"r":0.5,"b":0.35,"eg":0.06,"er":0.06,"eb":0.05},
{"s":20,"x":110,"g":0.05,"r":0.08,"b":0.25,"eg":0.05,"er":0.05,"eb":0.04},
{"s":20,"x":112.5,"g":-0.1,"r":-0.1,"b":0,"eg":0.04,"er":0.04,"eb":0.03},
{"s":20,"x":115,"g":-0.15,"r":-0.1,"b":-0.08,"eg":0.04,"er":0.04,"eb":0.03},
{"s":20,"x":117.5,"g":-0.15,"r":-0.08,"b":-0.08,"eg":0.04,"er":0.04,"eb":0.03}],
"hMT":[
{"s":3,"x":2,"g":0.02,"r":0.02,"b":0.02,"eg":0.03,"er":0.03,"eb":0.03},
{"s":3,"x":4,"g":0.02,"r":0.02,"b":0.02,"eg":0.03,"er":0.03,"eb":0.03},
{"s":3,"x":6,"g":0.02,"r":0.03,"b":0.05,"eg":0.03,"er":0.03,"eb":0.05},
{"s":3,"x":8,"g":0.2,"r":0.2,"b":0.1,"eg":0.08,"er":0.08,"eb":0.08},
{"s":3,"x":10,"g":0.7,"r":0.68,"b":0.18,"eg":0.2,"er":0.22,"eb":0.12},
{"s":3,"x":12,"g":1.0,"r":0.98,"b":0.18,"eg":0.28,"er":0.28,"eb":0.12},
{"s":3,"x":14,"g":0.75,"r":0.7,"b":0.1,"eg":0.22,"er":0.22,"eb":0.1},
{"s":3,"x":16,"g":0.25,"r":0.2,"b":0,"eg":0.1,"er":0.1,"eb":0.07},
{"s":3,"x":18,"g":0.02,"r":0,"b":0,"eg":0.04,"er":0.04,"eb":0.05},
{"s":3,"x":20,"g":-0.02,"r":-0.02,"b":-0.02,"eg":0.03,"er":0.03,"eb":0.04},
{"s":5,"x":25,"g":0,"r":0,"b":0,"eg":0.03,"er":0.03,"eb":0.04},
{"s":5,"x":27,"g":-0.02,"r":-0.02,"b":-0.02,"eg":0.03,"er":0.03,"eb":0.04},
{"s":5,"x":29,"g":0,"r":0,"b":0,"eg":0.03,"er":0.03,"eb":0.04},
{"s":5,"x":31,"g":0.15,"r":0.12,"b":0.05,"eg":0.06,"er":0.06,"eb":0.07},
{"s":5,"x":33,"g":0.6,"r":0.55,"b":0.1,"eg":0.18,"er":0.2,"eb":0.1},
{"s":5,"x":35,"g":1.05,"r":0.95,"b":0.12,"eg":0.27,"er":0.28,"eb":0.12},
{"s":5,"x":37,"g":1.15,"r":1.02,"b":0.12,"eg":0.28,"er":0.28,"eb":0.12},
{"s":5,"x":39,"g":0.7,"r":0.6,"b":0.05,"eg":0.2,"er":0.2,"eb":0.1},
{"s":5,"x":41,"g":0.2,"r":0.15,"b":0,"eg":0.08,"er":0.08,"eb":0.07},
{"s":5,"x":43,"g":0,"r":0,"b":-0.02,"eg":0.04,"er":0.04,"eb":0.05},
{"s":5,"x":45,"g":-0.02,"r":-0.02,"b":-0.02,"eg":0.03,"er":0.03,"eb":0.04},
{"s":10,"x":49.5,"g":0.02,"r":0,"b":0,"eg":0.04,"er":0.04,"eb":0.06},
{"s":10,"x":51.5,"g":-0.05,"r":-0.08,"b":-0.02,"eg":0.05,"er":0.05,"eb":0.07},
{"s":10,"x":53.5,"g":-0.08,"r":-0.12,"b":-0.02,"eg":0.05,"er":0.05,"eb":0.08},
{"s":10,"x":55.5,"g":0.05,"r":0,"b":0,"eg":0.07,"er":0.07,"eb":0.08},
{"s":10,"x":57.5,"g":0.45,"r":0.35,"b":0,"eg":0.18,"er":0.18,"eb":0.08},
{"s":10,"x":59.5,"g":0.8,"r":0.7,"b":0,"eg":0.25,"er":0.25,"eb":0.08},
{"s":10,"x":61.5,"g":0.95,"r":0.88,"b":-0.02,"eg":0.28,"er":0.28,"eb":0.08},
{"s":10,"x":63.5,"g":1.0,"r":0.92,"b":-0.05,"eg":0.3,"er":0.3,"eb":0.08},
{"s":10,"x":65.5,"g":0.95,"r":0.88,"b":0,"eg":0.28,"er":0.28,"eb":0.08},
{"s":10,"x":67.5,"g":0.65,"r":0.6,"b":0.12,"eg":0.2,"er":0.2,"eb":0.08},
{"s":10,"x":69.5,"g":0.2,"r":0.2,"b":0.2,"eg":0.1,"er":0.1,"eb":0.08},
{"s":10,"x":71.5,"g":-0.1,"r":-0.05,"b":0.15,"eg":0.05,"er":0.05,"eb":0.07},
{"s":10,"x":73.5,"g":-0.1,"r":-0.05,"b":0.05,"eg":0.04,"er":0.04,"eb":0.06},
{"s":10,"x":75.5,"g":0,"r":0,"b":0,"eg":0.04,"er":0.04,"eb":0.05},
{"s":20,"x":80,"g":0.02,"r":0,"b":0,"eg":0.03,"er":0.03,"eb":0.05},
{"s":20,"x":82.5,"g":0,"r":-0.02,"b":-0.05,"eg":0.04,"er":0.04,"eb":0.06},
{"s":20,"x":85,"g":0,"r":-0.02,"b":-0.05,"eg":0.05,"er":0.05,"eb":0.07},
{"s":20,"x":87.5,"g":0.15,"r":0.12,"b":0,"eg":0.08,"er":0.08,"eb":0.07},
{"s":20,"x":90,"g":0.35,"r":0.32,"b":0.05,"eg":0.12,"er":0.12,"eb":0.07},
{"s":20,"x":92.5,"g":0.45,"r":0.42,"b":0,"eg":0.15,"er":0.15,"eb":0.07},
{"s":20,"x":95,"g":0.5,"r":0.48,"b":0,"eg":0.15,"er":0.15,"eb":0.07},
{"s":20,"x":97.5,"g":0.53,"r":0.52,"b":0,"eg":0.15,"er":0.15,"eb":0.07},
{"s":20,"x":100,"g":0.56,"r":0.55,"b":0,"eg":0.15,"er":0.15,"eb":0.07},
{"s":20,"x":102.5,"g":0.6,"r":0.58,"b":0,"eg":0.15,"er":0.15,"eb":0.07},
{"s":20,"x":105,"g":0.65,"r":0.62,"b":0.12,"eg":0.15,"er":0.15,"eb":0.07},
{"s":20,"x":107.5,"g":0.55,"r":0.5,"b":0.2,"eg":0.13,"er":0.13,"eb":0.07},
{"s":20,"x":110,"g":0.2,"r":0.15,"b":0.15,"eg":0.08,"er":0.08,"eb":0.06},
{"s":20,"x":112.5,"g":-0.02,"r":0,"b":0.05,"eg":0.04,"er":0.04,"eb":0.05},
{"s":20,"x":115,"g":-0.02,"r":-0.02,"b":0,"eg":0.03,"er":0.03,"eb":0.04},
{"s":20,"x":117.5,"g":0,"r":0,"b":0,"eg":0.03,"er":0.03,"eb":0.04}],
"MTG":[
{"s":3,"x":2,"g":0,"r":0.03,"b":0,"eg":0.03,"er":0.03,"eb":0.04},
{"s":3,"x":4,"g":-0.05,"r":-0.03,"b":-0.02,"eg":0.03,"er":0.03,"eb":0.04},
{"s":3,"x":6,"g":-0.06,"r":-0.06,"b":-0.03,"eg":0.04,"er":0.04,"eb":0.05},
{"s":3,"x":8,"g":0.05,"r":0.05,"b":0.03,"eg":0.06,"er":0.06,"eb":0.05},
{"s":3,"x":10,"g":0.3,"r":0.3,"b":0.07,"eg":0.12,"er":0.12,"eb":0.06},
{"s":3,"x":12,"g":0.4,"r":0.4,"b":0.05,"eg":0.15,"er":0.15,"eb":0.06},
{"s":3,"x":14,"g":0.3,"r":0.28,"b":0,"eg":0.12,"er":0.12,"eb":0.05},
{"s":3,"x":16,"g":0.08,"r":0.05,"b":-0.03,"eg":0.06,"er":0.06,"eb":0.05},
{"s":3,"x":18,"g":-0.02,"r":-0.02,"b":-0.03,"eg":0.03,"er":0.03,"eb":0.04},
{"s":3,"x":20,"g":-0.02,"r":-0.02,"b":-0.03,"eg":0.03,"er":0.03,"eb":0.04},
{"s":5,"x":25,"g":-0.05,"r":-0.08,"b":0,"eg":0.03,"er":0.03,"eb":0.05},
{"s":5,"x":27,"g":-0.08,"r":-0.1,"b":-0.03,"eg":0.03,"er":0.03,"eb":0.05},
{"s":5,"x":29,"g":-0.07,"r":-0.07,"b":-0.07,"eg":0.04,"er":0.04,"eb":0.05},
{"s":5,"x":31,"g":0.05,"r":0.08,"b":0,"eg":0.06,"er":0.06,"eb":0.06},
{"s":5,"x":33,"g":0.28,"r":0.3,"b":0.05,"eg":0.12,"er":0.12,"eb":0.07},
{"s":5,"x":35,"g":0.42,"r":0.43,"b":0.06,"eg":0.15,"er":0.15,"eb":0.07},
{"s":5,"x":37,"g":0.45,"r":0.44,"b":0.05,"eg":0.15,"er":0.15,"eb":0.07},
{"s":5,"x":39,"g":0.32,"r":0.3,"b":0.02,"eg":0.12,"er":0.12,"eb":0.06},
{"s":5,"x":41,"g":0.1,"r":0.1,"b":0.02,"eg":0.06,"er":0.06,"eb":0.06},
{"s":5,"x":43,"g":0.02,"r":0.02,"b":0.02,"eg":0.03,"er":0.03,"eb":0.05},
{"s":5,"x":45,"g":-0.02,"r":-0.02,"b":-0.03,"eg":0.03,"er":0.03,"eb":0.05},
{"s":10,"x":49.5,"g":-0.02,"r":0,"b":0.05,"eg":0.04,"er":0.04,"eb":0.05},
{"s":10,"x":51.5,"g":-0.05,"r":-0.03,"b":0,"eg":0.04,"er":0.04,"eb":0.05},
{"s":10,"x":53.5,"g":-0.08,"r":-0.07,"b":-0.05,"eg":0.04,"er":0.04,"eb":0.05},
{"s":10,"x":55.5,"g":-0.03,"r":-0.03,"b":-0.08,"eg":0.05,"er":0.05,"eb":0.05},
{"s":10,"x":57.5,"g":0.1,"r":0.12,"b":-0.06,"eg":0.08,"er":0.08,"eb":0.06},
{"s":10,"x":59.5,"g":0.22,"r":0.25,"b":-0.05,"eg":0.12,"er":0.12,"eb":0.06},
{"s":10,"x":61.5,"g":0.32,"r":0.35,"b":-0.03,"eg":0.14,"er":0.14,"eb":0.06},
{"s":10,"x":63.5,"g":0.38,"r":0.37,"b":-0.02,"eg":0.15,"er":0.15,"eb":0.06},
{"s":10,"x":65.5,"g":0.4,"r":0.37,"b":0.03,"eg":0.14,"er":0.14,"eb":0.06},
{"s":10,"x":67.5,"g":0.35,"r":0.3,"b":0.08,"eg":0.12,"er":0.12,"eb":0.06},
{"s":10,"x":69.5,"g":0.2,"r":0.15,"b":0.12,"eg":0.08,"er":0.08,"eb":0.06},
{"s":10,"x":71.5,"g":0.03,"r":0,"b":0.08,"eg":0.05,"er":0.05,"eb":0.05},
{"s":10,"x":73.5,"g":-0.05,"r":-0.05,"b":0.03,"eg":0.04,"er":0.04,"eb":0.05},
{"s":10,"x":75.5,"g":-0.08,"r":-0.08,"b":0,"eg":0.04,"er":0.04,"eb":0.05},
{"s":20,"x":80,"g":0,"r":0,"b":0,"eg":0.03,"er":0.03,"eb":0.04},
{"s":20,"x":82.5,"g":-0.03,"r":-0.03,"b":-0.02,"eg":0.03,"er":0.03,"eb":0.04},
{"s":20,"x":85,"g":-0.03,"r":-0.03,"b":-0.03,"eg":0.04,"er":0.04,"eb":0.04},
{"s":20,"x":87.5,"g":0.05,"r":0.03,"b":-0.03,"eg":0.05,"er":0.05,"eb":0.04},
{"s":20,"x":90,"g":0.12,"r":0.1,"b":-0.02,"eg":0.06,"er":0.06,"eb":0.04},
{"s":20,"x":92.5,"g":0.18,"r":0.16,"b":0,"eg":0.07,"er":0.07,"eb":0.04},
{"s":20,"x":95,"g":0.22,"r":0.2,"b":-0.02,"eg":0.07,"er":0.07,"eb":0.04},
{"s":20,"x":97.5,"g":0.24,"r":0.23,"b":0,"eg":0.07,"er":0.07,"eb":0.04},
{"s":20,"x":100,"g":0.26,"r":0.22,"b":0.02,"eg":0.07,"er":0.07,"eb":0.04},
{"s":20,"x":102.5,"g":0.28,"r":0.25,"b":0,"eg":0.07,"er":0.07,"eb":0.04},
{"s":20,"x":105,"g":0.3,"r":0.28,"b":-0.03,"eg":0.07,"er":0.07,"eb":0.04},
{"s":20,"x":107.5,"g":0.25,"r":0.18,"b":0.05,"eg":0.07,"er":0.07,"eb":0.04},
{"s":20,"x":110,"g":0.08,"r":0.02,"b":0.07,"eg":0.05,"er":0.05,"eb":0.04},
{"s":20,"x":112.5,"g":-0.02,"r":-0.03,"b":0.02,"eg":0.04,"er":0.04,"eb":0.04},
{"s":20,"x":115,"g":-0.05,"r":-0.03,"b":-0.02,"eg":0.03,"er":0.03,"eb":0.04},
{"s":20,"x":117.5,"g":-0.07,"r":-0.03,"b":-0.02,"eg":0.03,"er":0.03,"eb":0.04}],
"pSTS":[
{"s":3,"x":2,"g":-0.02,"r":0,"b":0,"eg":0.04,"er":0.04,"eb":0.05},
{"s":3,"x":4,"g":-0.08,"r":-0.04,"b":-0.02,"eg":0.04,"er":0.04,"eb":0.05},
{"s":3,"x":6,"g":-0.08,"r":-0.05,"b":-0.02,"eg":0.05,"er":0.05,"eb":0.05},
{"s":3,"x":8,"g":0.02,"r":0.05,"b":0.05,"eg":0.07,"er":0.07,"eb":0.06},
{"s":3,"x":10,"g":0.15,"r":0.18,"b":0.1,"eg":0.12,"er":0.12,"eb":0.06},
{"s":3,"x":12,"g":0.25,"r":0.26,"b":0.08,"eg":0.15,"er":0.15,"eb":0.06},
{"s":3,"x":14,"g":0.25,"r":0.22,"b":0.05,"eg":0.14,"er":0.14,"eb":0.05},
{"s":3,"x":16,"g":0.1,"r":0.08,"b":0.02,"eg":0.08,"er":0.08,"eb":0.05},
{"s":3,"x":18,"g":0.02,"r":0,"b":0,"eg":0.04,"er":0.04,"eb":0.04},
{"s":3,"x":20,"g":-0.02,"r":-0.02,"b":0,"eg":0.03,"er":0.03,"eb":0.04},
{"s":5,"x":25,"g":-0.08,"r":-0.02,"b":0.05,"eg":0.04,"er":0.04,"eb":0.06},
{"s":5,"x":27,"g":-0.07,"r":-0.02,"b":0.02,"eg":0.04,"er":0.04,"eb":0.06},
{"s":5,"x":29,"g":-0.04,"r":-0.02,"b":0,"eg":0.05,"er":0.05,"eb":0.06},
{"s":5,"x":31,"g":0.03,"r":0.05,"b":0.03,"eg":0.07,"er":0.07,"eb":0.06},
{"s":5,"x":33,"g":0.15,"r":0.17,"b":0.06,"eg":0.12,"er":0.12,"eb":0.06},
{"s":5,"x":35,"g":0.26,"r":0.26,"b":0.07,"eg":0.15,"er":0.15,"eb":0.06},
{"s":5,"x":37,"g":0.25,"r":0.25,"b":0.05,"eg":0.14,"er":0.14,"eb":0.06},
{"s":5,"x":39,"g":0.15,"r":0.15,"b":0.03,"eg":0.1,"er":0.1,"eb":0.06},
{"s":5,"x":41,"g":0.04,"r":0.06,"b":0,"eg":0.05,"er":0.05,"eb":0.05},
{"s":5,"x":43,"g":-0.02,"r":0.04,"b":-0.03,"eg":0.04,"er":0.04,"eb":0.05},
{"s":5,"x":45,"g":-0.04,"r":0.02,"b":-0.05,"eg":0.04,"er":0.04,"eb":0.05},
{"s":10,"x":49.5,"g":-0.02,"r":0,"b":0.02,"eg":0.04,"er":0.04,"eb":0.05},
{"s":10,"x":51.5,"g":-0.03,"r":0,"b":0.02,"eg":0.04,"er":0.04,"eb":0.05},
{"s":10,"x":53.5,"g":-0.05,"r":-0.02,"b":0,"eg":0.05,"er":0.05,"eb":0.05},
{"s":10,"x":55.5,"g":0,"r":0.05,"b":0,"eg":0.06,"er":0.07,"eb":0.05},
{"s":10,"x":57.5,"g":0.1,"r":0.18,"b":0.02,"eg":0.08,"er":0.12,"eb":0.05},
{"s":10,"x":59.5,"g":0.18,"r":0.28,"b":0.04,"eg":0.1,"er":0.15,"eb":0.05},
{"s":10,"x":61.5,"g":0.2,"r":0.3,"b":0.05,"eg":0.12,"er":0.16,"eb":0.05},
{"s":10,"x":63.5,"g":0.2,"r":0.28,"b":0.02,"eg":0.12,"er":0.16,"eb":0.05},
{"s":10,"x":65.5,"g":0.2,"r":0.27,"b":0.04,"eg":0.12,"er":0.15,"eb":0.05},
{"s":10,"x":67.5,"g":0.2,"r":0.22,"b":0.08,"eg":0.12,"er":0.13,"eb":0.05},
{"s":10,"x":69.5,"g":0.12,"r":0.12,"b":0.14,"eg":0.1,"er":0.1,"eb":0.05},
{"s":10,"x":71.5,"g":0,"r":0,"b":0.12,"eg":0.06,"er":0.06,"eb":0.05},
{"s":10,"x":73.5,"g":-0.08,"r":-0.08,"b":0.05,"eg":0.04,"er":0.04,"eb":0.05},
{"s":10,"x":75.5,"g":-0.1,"r":-0.1,"b":0,"eg":0.04,"er":0.04,"eb":0.05},
{"s":20,"x":80,"g":0,"r":0.08,"b":-0.08,"eg":0.04,"er":0.04,"eb":0.05},
{"s":20,"x":82.5,"g":-0.03,"r":0.02,"b":-0.06,"eg":0.04,"er":0.05,"eb":0.05},
{"s":20,"x":85,"g":-0.02,"r":0,"b":-0.03,"eg":0.05,"er":0.06,"eb":0.05},
{"s":20,"x":87.5,"g":0,"r":0.05,"b":0.02,"eg":0.06,"er":0.08,"eb":0.05},
{"s":20,"x":90,"g":0.02,"r":0.1,"b":0.06,"eg":0.08,"er":0.12,"eb":0.05},
{"s":20,"x":92.5,"g":0.03,"r":0.14,"b":0.08,"eg":0.08,"er":0.12,"eb":0.05},
{"s":20,"x":95,"g":0.08,"r":0.14,"b":0.08,"eg":0.1,"er":0.12,"eb":0.05},
{"s":20,"x":97.5,"g":0.12,"r":0.15,"b":0.05,"eg":0.1,"er":0.12,"eb":0.05},
{"s":20,"x":100,"g":0.15,"r":0.18,"b":0,"eg":0.1,"er":0.12,"eb":0.05},
{"s":20,"x":102.5,"g":0.14,"r":0.21,"b":-0.02,"eg":0.1,"er":0.12,"eb":0.05},
{"s":20,"x":105,"g":0.18,"r":0.21,"b":0.03,"eg":0.1,"er":0.12,"eb":0.05},
{"s":20,"x":107.5,"g":0.2,"r":0.15,"b":0.08,"eg":0.1,"er":0.1,"eb":0.05},
{"s":20,"x":110,"g":0.15,"r":0.03,"b":0.05,"eg":0.08,"er":0.07,"eb":0.05},
{"s":20,"x":112.5,"g":0.02,"r":-0.02,"b":-0.01,"eg":0.05,"er":0.05,"eb":0.05},
{"s":20,"x":115,"g":-0.02,"r":-0.02,"b":-0.02,"eg":0.04,"er":0.04,"eb":0.05},
{"s":20,"x":117.5,"g":-0.02,"r":-0.02,"b":-0.03,"eg":0.04,"er":0.04,"eb":0.05}]
},
"spacing":15.3,
"vconcat":[
{"width":1177,"height":50,
"layer":[
{"data":{"name":"leg"},"mark":{"type":"line","interpolate":"step-after","strokeWidth":1.3},
"encoding":{"x":{"field":"x","type":"quantitative","scale":{"domain":[0,392.33],"nice":false,"zero":false},"axis":null},"y":{"field":"y","type":"quantitative","scale":{"domain":[0,10],"nice":false,"zero":false},"axis":null},"color":{"field":"c","type":"nominal","scale":{"domain":["g","r","b"],"range":["#12a04a","#ec2227","#35369a"]},"legend":null}}},
{"data":{"name":"legt"},"mark":{"type":"text","align":"left","baseline":"middle","fontSize":14},
"encoding":{"x":{"field":"x","type":"quantitative","axis":null},"y":{"field":"y","type":"quantitative","axis":null},"color":{"field":"c","type":"nominal","legend":null},"text":{"field":"t"}}}
]},
{"columns":3,"bounds":"flush","spacing":{"row":64.7,"column":62},
"concat":[
{"width":351,"height":84.5,"title":"V1","layer":[
{"data":{"name":"tr"},"mark":{"type":"rule","color":"#444","strokeWidth":1},"encoding":{"x":{"field":"s0","type":"quantitative","scale":{"domain":[0,118],"nice":false,"zero":false},"axis":null},"x2":{"field":"s1"},"y":{"datum":0,"type":"quantitative","scale":{"domain":[-1,4],"nice":false,"zero":false},"axis":{"values":[-1,-0.5,0,0.5,1,1.5,2,2.5,3,3.5,4],"format":"~g","labelExpr":"datum.value==0||datum.value==2||datum.value==4?datum.label:''","title":"% signal change"}}}},
{"data":{"values":[{}]},"mark":{"type":"rule","color":"#333","strokeWidth":1},"encoding":{"x":{"datum":0,"type":"quantitative","axis":null},"y":{"datum":-1,"type":"quantitative","axis":{"values":[-1,-0.5,0,0.5,1,1.5,2,2.5,3,3.5,4],"format":"~g","labelExpr":"datum.value==0||datum.value==2||datum.value==4?datum.label:''","title":"% signal change"}},"y2":{"datum":4}}},
{"data":{"name":"V1"},"transform":[{"fold":["g","r","b"],"as":["c","y"]},{"fold":["eg","er","eb"],"as":["ec","e"]},{"filter":"datum.ec == 'e' + datum.c"}],
"encoding":{"x":{"field":"x","type":"quantitative","axis":null},"y":{"field":"y","type":"quantitative","axis":{"values":[-1,-0.5,0,0.5,1,1.5,2,2.5,3,3.5,4],"format":"~g","labelExpr":"datum.value==0||datum.value==2||datum.value==4?datum.label:''","title":"% signal change"}},"color":{"field":"c","type":"nominal","legend":null},"detail":{"field":"s","type":"nominal"}},
"layer":[{"mark":{"type":"errorband","opacity":0.45,"interpolate":"monotone"},"encoding":{"yError":{"field":"e"}}},{"mark":{"type":"line","strokeWidth":2,"interpolate":"monotone"}}]},
{"data":{"name":"tr"},"mark":{"type":"rect","color":"#000"},"encoding":{"x":{"field":"o0","type":"quantitative","axis":null},"x2":{"field":"o1"},"y":{"datum":-0.53,"type":"quantitative","axis":{"values":[-1,-0.5,0,0.5,1,1.5,2,2.5,3,3.5,4],"format":"~g","labelExpr":"datum.value==0||datum.value==2||datum.value==4?datum.label:''","title":"% signal change"}},"y2":{"datum":-0.87}}},
{"data":{"name":"tr"},"mark":{"type":"text","fontSize":12,"color":"#222","baseline":"middle","align":"center"},"encoding":{"x":{"field":"m","type":"quantitative","axis":null},"y":{"datum":-1.54,"type":"quantitative","axis":{"values":[-1,-0.5,0,0.5,1,1.5,2,2.5,3,3.5,4],"format":"~g","labelExpr":"datum.value==0||datum.value==2||datum.value==4?datum.label:''","title":"% signal change"}},"text":{"field":"l"}}}]},
{"width":351,"height":84.5,"title":"LOS-bodies","layer":[
{"data":{"name":"tr"},"mark":{"type":"rule","color":"#444","strokeWidth":1},"encoding":{"x":{"field":"s0","type":"quantitative","scale":{"domain":[0,118],"nice":false,"zero":false},"axis":null},"x2":{"field":"s1"},"y":{"datum":0,"type":"quantitative","scale":{"domain":[-0.375,1.5],"nice":false,"zero":false},"axis":{"values":[-0.2,-0.1,0,0.1,0.2,0.3,0.4,0.5,0.6,0.7,0.8,0.9,1,1.1,1.2,1.3,1.4,1.5],"format":"~g","labelExpr":"datum.value==0||datum.value==0.5||datum.value==1||datum.value==1.5?datum.label:''","title":null}}}},
{"data":{"values":[{}]},"mark":{"type":"rule","color":"#333","strokeWidth":1},"encoding":{"x":{"datum":0,"type":"quantitative","axis":null},"y":{"datum":-0.2,"type":"quantitative","axis":{"values":[-0.2,-0.1,0,0.1,0.2,0.3,0.4,0.5,0.6,0.7,0.8,0.9,1,1.1,1.2,1.3,1.4,1.5],"format":"~g","labelExpr":"datum.value==0||datum.value==0.5||datum.value==1||datum.value==1.5?datum.label:''","title":null}},"y2":{"datum":1.5}}},
{"data":{"name":"LOS"},"transform":[{"fold":["g","r","b"],"as":["c","y"]},{"fold":["eg","er","eb"],"as":["ec","e"]},{"filter":"datum.ec == 'e' + datum.c"}],
"encoding":{"x":{"field":"x","type":"quantitative","axis":null},"y":{"field":"y","type":"quantitative","axis":{"values":[-0.2,-0.1,0,0.1,0.2,0.3,0.4,0.5,0.6,0.7,0.8,0.9,1,1.1,1.2,1.3,1.4,1.5],"format":"~g","labelExpr":"datum.value==0||datum.value==0.5||datum.value==1||datum.value==1.5?datum.label:''","title":null}},"color":{"field":"c","type":"nominal","legend":null},"detail":{"field":"s","type":"nominal"}},
"layer":[{"mark":{"type":"errorband","opacity":0.45,"interpolate":"monotone"},"encoding":{"yError":{"field":"e"}}},{"mark":{"type":"line","strokeWidth":2,"interpolate":"monotone"}}]},
{"data":{"name":"tr"},"mark":{"type":"rect","color":"#000"},"encoding":{"x":{"field":"o0","type":"quantitative","axis":null},"x2":{"field":"o1"},"y":{"datum":-0.2,"type":"quantitative","axis":{"values":[-0.2,-0.1,0,0.1,0.2,0.3,0.4,0.5,0.6,0.7,0.8,0.9,1,1.1,1.2,1.3,1.4,1.5],"format":"~g","labelExpr":"datum.value==0||datum.value==0.5||datum.value==1||datum.value==1.5?datum.label:''","title":null}},"y2":{"datum":-0.325}}},
{"data":{"name":"tr"},"mark":{"type":"text","fontSize":12,"color":"#222","baseline":"middle","align":"center"},"encoding":{"x":{"field":"m","type":"quantitative","axis":null},"y":{"datum":-0.578,"type":"quantitative","axis":{"values":[-0.2,-0.1,0,0.1,0.2,0.3,0.4,0.5,0.6,0.7,0.8,0.9,1,1.1,1.2,1.3,1.4,1.5],"format":"~g","labelExpr":"datum.value==0||datum.value==0.5||datum.value==1||datum.value==1.5?datum.label:''","title":null}},"text":{"field":"l"}}}]},
{"width":351,"height":84.5,"title":"IOG-faces","layer":[
{"data":{"name":"tr"},"mark":{"type":"rule","color":"#444","strokeWidth":1},"encoding":{"x":{"field":"s0","type":"quantitative","scale":{"domain":[0,118],"nice":false,"zero":false},"axis":null},"x2":{"field":"s1"},"y":{"datum":0,"type":"quantitative","scale":{"domain":[-0.5,2],"nice":false,"zero":false},"axis":{"values":[-0.4,-0.2,0,0.2,0.4,0.6,0.8,1,1.2,1.4,1.6,1.8,2],"format":"~g","labelExpr":"datum.value==0||datum.value==1||datum.value==2?datum.label:''","title":null}}}},
{"data":{"values":[{}]},"mark":{"type":"rule","color":"#333","strokeWidth":1},"encoding":{"x":{"datum":0,"type":"quantitative","axis":null},"y":{"datum":-0.4,"type":"quantitative","axis":{"values":[-0.4,-0.2,0,0.2,0.4,0.6,0.8,1,1.2,1.4,1.6,1.8,2],"format":"~g","labelExpr":"datum.value==0||datum.value==1||datum.value==2?datum.label:''","title":null}},"y2":{"datum":2}}},
{"data":{"name":"IOG"},"transform":[{"fold":["g","r","b"],"as":["c","y"]},{"fold":["eg","er","eb"],"as":["ec","e"]},{"filter":"datum.ec == 'e' + datum.c"}],
"encoding":{"x":{"field":"x","type":"quantitative","axis":null},"y":{"field":"y","type":"quantitative","axis":{"values":[-0.4,-0.2,0,0.2,0.4,0.6,0.8,1,1.2,1.4,1.6,1.8,2],"format":"~g","labelExpr":"datum.value==0||datum.value==1||datum.value==2?datum.label:''","title":null}},"color":{"field":"c","type":"nominal","legend":null},"detail":{"field":"s","type":"nominal"}},
"layer":[{"mark":{"type":"errorband","opacity":0.45,"interpolate":"monotone"},"encoding":{"yError":{"field":"e"}}},{"mark":{"type":"line","strokeWidth":2,"interpolate":"monotone"}}]},
{"data":{"name":"tr"},"mark":{"type":"rect","color":"#000"},"encoding":{"x":{"field":"o0","type":"quantitative","axis":null},"x2":{"field":"o1"},"y":{"datum":-0.267,"type":"quantitative","axis":{"values":[-0.4,-0.2,0,0.2,0.4,0.6,0.8,1,1.2,1.4,1.6,1.8,2],"format":"~g","labelExpr":"datum.value==0||datum.value==1||datum.value==2?datum.label:''","title":null}},"y2":{"datum":-0.433}}},
{"data":{"name":"tr"},"mark":{"type":"text","fontSize":12,"color":"#222","baseline":"middle","align":"center"},"encoding":{"x":{"field":"m","type":"quantitative","axis":null},"y":{"datum":-0.77,"type":"quantitative","axis":{"values":[-0.4,-0.2,0,0.2,0.4,0.6,0.8,1,1.2,1.4,1.6,1.8,2],"format":"~g","labelExpr":"datum.value==0||datum.value==1||datum.value==2?datum.label:''","title":null}},"text":{"field":"l"}}}]},
{"width":351,"height":84.5,"title":"hV4","layer":[
{"data":{"name":"tr"},"mark":{"type":"rule","color":"#444","strokeWidth":1},"encoding":{"x":{"field":"s0","type":"quantitative","scale":{"domain":[0,118],"nice":false,"zero":false},"axis":null},"x2":{"field":"s1"},"y":{"datum":0,"type":"quantitative","scale":{"domain":[-0.75,3],"nice":false,"zero":false},"axis":{"values":[-0.4,-0.2,0,0.2,0.4,0.6,0.8,1,1.2,1.4,1.6,1.8,2,2.2,2.4,2.6,2.8,3],"format":"~g","labelExpr":"datum.value==0||datum.value==1||datum.value==2||datum.value==3?datum.label:''","title":"% signal change"}}}},
{"data":{"values":[{}]},"mark":{"type":"rule","color":"#333","strokeWidth":1},"encoding":{"x":{"datum":0,"type":"quantitative","axis":null},"y":{"datum":-0.4,"type":"quantitative","axis":{"values":[-0.4,-0.2,0,0.2,0.4,0.6,0.8,1,1.2,1.4,1.6,1.8,2,2.2,2.4,2.6,2.8,3],"format":"~g","labelExpr":"datum.value==0||datum.value==1||datum.value==2||datum.value==3?datum.label:''","title":"% signal change"}},"y2":{"datum":3}}},
{"data":{"name":"hV4"},"transform":[{"fold":["g","r","b"],"as":["c","y"]},{"fold":["eg","er","eb"],"as":["ec","e"]},{"filter":"datum.ec == 'e' + datum.c"}],
"encoding":{"x":{"field":"x","type":"quantitative","axis":null},"y":{"field":"y","type":"quantitative","axis":{"values":[-0.4,-0.2,0,0.2,0.4,0.6,0.8,1,1.2,1.4,1.6,1.8,2,2.2,2.4,2.6,2.8,3],"format":"~g","labelExpr":"datum.value==0||datum.value==1||datum.value==2||datum.value==3?datum.label:''","title":"% signal change"}},"color":{"field":"c","type":"nominal","legend":null},"detail":{"field":"s","type":"nominal"}},
"layer":[{"mark":{"type":"errorband","opacity":0.45,"interpolate":"monotone"},"encoding":{"yError":{"field":"e"}}},{"mark":{"type":"line","strokeWidth":2,"interpolate":"monotone"}}]},
{"data":{"name":"tr"},"mark":{"type":"rect","color":"#000"},"encoding":{"x":{"field":"o0","type":"quantitative","axis":null},"x2":{"field":"o1"},"y":{"datum":-0.4,"type":"quantitative","axis":{"values":[-0.4,-0.2,0,0.2,0.4,0.6,0.8,1,1.2,1.4,1.6,1.8,2,2.2,2.4,2.6,2.8,3],"format":"~g","labelExpr":"datum.value==0||datum.value==1||datum.value==2||datum.value==3?datum.label:''","title":"% signal change"}},"y2":{"datum":-0.65}}},
{"data":{"name":"tr"},"mark":{"type":"text","fontSize":12,"color":"#222","baseline":"middle","align":"center"},"encoding":{"x":{"field":"m","type":"quantitative","axis":null},"y":{"datum":-1.155,"type":"quantitative","axis":{"values":[-0.4,-0.2,0,0.2,0.4,0.6,0.8,1,1.2,1.4,1.6,1.8,2,2.2,2.4,2.6,2.8,3],"format":"~g","labelExpr":"datum.value==0||datum.value==1||datum.value==2||datum.value==3?datum.label:''","title":"% signal change"}},"text":{"field":"l"}}}]},
{"width":351,"height":84.5,"title":"OTS-bodies","layer":[
{"data":{"name":"tr"},"mark":{"type":"rule","color":"#444","strokeWidth":1},"encoding":{"x":{"field":"s0","type":"quantitative","scale":{"domain":[0,118],"nice":false,"zero":false},"axis":null},"x2":{"field":"s1"},"y":{"datum":0,"type":"quantitative","scale":{"domain":[-0.375,1.5],"nice":false,"zero":false},"axis":{"values":[-0.2,-0.1,0,0.1,0.2,0.3,0.4,0.5,0.6,0.7,0.8,0.9,1,1.1,1.2,1.3,1.4,1.5],"format":"~g","labelExpr":"datum.value==0||datum.value==0.5||datum.value==1||datum.value==1.5?datum.label:''","title":null}}}},
{"data":{"values":[{}]},"mark":{"type":"rule","color":"#333","strokeWidth":1},"encoding":{"x":{"datum":0,"type":"quantitative","axis":null},"y":{"datum":-0.2,"type":"quantitative","axis":{"values":[-0.2,-0.1,0,0.1,0.2,0.3,0.4,0.5,0.6,0.7,0.8,0.9,1,1.1,1.2,1.3,1.4,1.5],"format":"~g","labelExpr":"datum.value==0||datum.value==0.5||datum.value==1||datum.value==1.5?datum.label:''","title":null}},"y2":{"datum":1.5}}},
{"data":{"name":"OTS"},"transform":[{"fold":["g","r","b"],"as":["c","y"]},{"fold":["eg","er","eb"],"as":["ec","e"]},{"filter":"datum.ec == 'e' + datum.c"}],
"encoding":{"x":{"field":"x","type":"quantitative","axis":null},"y":{"field":"y","type":"quantitative","axis":{"values":[-0.2,-0.1,0,0.1,0.2,0.3,0.4,0.5,0.6,0.7,0.8,0.9,1,1.1,1.2,1.3,1.4,1.5],"format":"~g","labelExpr":"datum.value==0||datum.value==0.5||datum.value==1||datum.value==1.5?datum.label:''","title":null}},"color":{"field":"c","type":"nominal","legend":null},"detail":{"field":"s","type":"nominal"}},
"layer":[{"mark":{"type":"errorband","opacity":0.45,"interpolate":"monotone"},"encoding":{"yError":{"field":"e"}}},{"mark":{"type":"line","strokeWidth":2,"interpolate":"monotone"}}]},
{"data":{"name":"tr"},"mark":{"type":"rect","color":"#000"},"encoding":{"x":{"field":"o0","type":"quantitative","axis":null},"x2":{"field":"o1"},"y":{"datum":-0.2,"type":"quantitative","axis":{"values":[-0.2,-0.1,0,0.1,0.2,0.3,0.4,0.5,0.6,0.7,0.8,0.9,1,1.1,1.2,1.3,1.4,1.5],"format":"~g","labelExpr":"datum.value==0||datum.value==0.5||datum.value==1||datum.value==1.5?datum.label:''","title":null}},"y2":{"datum":-0.325}}},
{"data":{"name":"tr"},"mark":{"type":"text","fontSize":12,"color":"#222","baseline":"middle","align":"center"},"encoding":{"x":{"field":"m","type":"quantitative","axis":null},"y":{"datum":-0.578,"type":"quantitative","axis":{"values":[-0.2,-0.1,0,0.1,0.2,0.3,0.4,0.5,0.6,0.7,0.8,0.9,1,1.1,1.2,1.3,1.4,1.5],"format":"~g","labelExpr":"datum.value==0||datum.value==0.5||datum.value==1||datum.value==1.5?datum.label:''","title":null}},"text":{"field":"l"}}}]},
{"width":351,"height":84.5,"title":"mFus-faces","layer":[
{"data":{"name":"tr"},"mark":{"type":"rule","color":"#444","strokeWidth":1},"encoding":{"x":{"field":"s0","type":"quantitative","scale":{"domain":[0,118],"nice":false,"zero":false},"axis":null},"x2":{"field":"s1"},"y":{"datum":0,"type":"quantitative","scale":{"domain":[-0.375,1.5],"nice":false,"zero":false},"axis":{"values":[-0.2,-0.1,0,0.1,0.2,0.3,0.4,0.5,0.6,0.7,0.8,0.9,1,1.1,1.2,1.3,1.4,1.5],"format":"~g","labelExpr":"datum.value==0||datum.value==0.5||datum.value==1||datum.value==1.5?datum.label:''","title":null}}}},
{"data":{"values":[{}]},"mark":{"type":"rule","color":"#333","strokeWidth":1},"encoding":{"x":{"datum":0,"type":"quantitative","axis":null},"y":{"datum":-0.2,"type":"quantitative","axis":{"values":[-0.2,-0.1,0,0.1,0.2,0.3,0.4,0.5,0.6,0.7,0.8,0.9,1,1.1,1.2,1.3,1.4,1.5],"format":"~g","labelExpr":"datum.value==0||datum.value==0.5||datum.value==1||datum.value==1.5?datum.label:''","title":null}},"y2":{"datum":1.5}}},
{"data":{"name":"mFus"},"transform":[{"fold":["g","r","b"],"as":["c","y"]},{"fold":["eg","er","eb"],"as":["ec","e"]},{"filter":"datum.ec == 'e' + datum.c"}],
"encoding":{"x":{"field":"x","type":"quantitative","axis":null},"y":{"field":"y","type":"quantitative","axis":{"values":[-0.2,-0.1,0,0.1,0.2,0.3,0.4,0.5,0.6,0.7,0.8,0.9,1,1.1,1.2,1.3,1.4,1.5],"format":"~g","labelExpr":"datum.value==0||datum.value==0.5||datum.value==1||datum.value==1.5?datum.label:''","title":null}},"color":{"field":"c","type":"nominal","legend":null},"detail":{"field":"s","type":"nominal"}},
"layer":[{"mark":{"type":"errorband","opacity":0.45,"interpolate":"monotone"},"encoding":{"yError":{"field":"e"}}},{"mark":{"type":"line","strokeWidth":2,"interpolate":"monotone"}}]},
{"data":{"name":"tr"},"mark":{"type":"rect","color":"#000"},"encoding":{"x":{"field":"o0","type":"quantitative","axis":null},"x2":{"field":"o1"},"y":{"datum":-0.2,"type":"quantitative","axis":{"values":[-0.2,-0.1,0,0.1,0.2,0.3,0.4,0.5,0.6,0.7,0.8,0.9,1,1.1,1.2,1.3,1.4,1.5],"format":"~g","labelExpr":"datum.value==0||datum.value==0.5||datum.value==1||datum.value==1.5?datum.label:''","title":null}},"y2":{"datum":-0.325}}},
{"data":{"name":"tr"},"mark":{"type":"text","fontSize":12,"color":"#222","baseline":"middle","align":"center"},"encoding":{"x":{"field":"m","type":"quantitative","axis":null},"y":{"datum":-0.578,"type":"quantitative","axis":{"values":[-0.2,-0.1,0,0.1,0.2,0.3,0.4,0.5,0.6,0.7,0.8,0.9,1,1.1,1.2,1.3,1.4,1.5],"format":"~g","labelExpr":"datum.value==0||datum.value==0.5||datum.value==1||datum.value==1.5?datum.label:''","title":null}},"text":{"field":"l"}}}]},
{"width":351,"height":84.5,"title":"hMT+","layer":[
{"data":{"name":"tr"},"mark":{"type":"rule","color":"#444","strokeWidth":1},"encoding":{"x":{"field":"s0","type":"quantitative","scale":{"domain":[0,118],"nice":false,"zero":false},"axis":{"title":"Time (s)","labels":false,"ticks":false,"domain":false}},"x2":{"field":"s1"},"y":{"datum":0,"type":"quantitative","scale":{"domain":[-0.375,1.5],"nice":false,"zero":false},"axis":{"values":[-0.2,-0.1,0,0.1,0.2,0.3,0.4,0.5,0.6,0.7,0.8,0.9,1,1.1,1.2,1.3,1.4,1.5],"format":"~g","labelExpr":"datum.value==0||datum.value==0.5||datum.value==1||datum.value==1.5?datum.label:''","title":"% signal change"}}}},
{"data":{"values":[{}]},"mark":{"type":"rule","color":"#333","strokeWidth":1},"encoding":{"x":{"datum":0,"type":"quantitative","axis":{"title":"Time (s)","labels":false,"ticks":false,"domain":false}},"y":{"datum":-0.2,"type":"quantitative","axis":{"values":[-0.2,-0.1,0,0.1,0.2,0.3,0.4,0.5,0.6,0.7,0.8,0.9,1,1.1,1.2,1.3,1.4,1.5],"format":"~g","labelExpr":"datum.value==0||datum.value==0.5||datum.value==1||datum.value==1.5?datum.label:''","title":"% signal change"}},"y2":{"datum":1.5}}},
{"data":{"name":"hMT"},"transform":[{"fold":["g","r","b"],"as":["c","y"]},{"fold":["eg","er","eb"],"as":["ec","e"]},{"filter":"datum.ec == 'e' + datum.c"}],
"encoding":{"x":{"field":"x","type":"quantitative","axis":{"title":"Time (s)","labels":false,"ticks":false,"domain":false}},"y":{"field":"y","type":"quantitative","axis":{"values":[-0.2,-0.1,0,0.1,0.2,0.3,0.4,0.5,0.6,0.7,0.8,0.9,1,1.1,1.2,1.3,1.4,1.5],"format":"~g","labelExpr":"datum.value==0||datum.value==0.5||datum.value==1||datum.value==1.5?datum.label:''","title":"% signal change"}},"color":{"field":"c","type":"nominal","legend":null},"detail":{"field":"s","type":"nominal"}},
"layer":[{"mark":{"type":"errorband","opacity":0.45,"interpolate":"monotone"},"encoding":{"yError":{"field":"e"}}},{"mark":{"type":"line","strokeWidth":2,"interpolate":"monotone"}}]},
{"data":{"name":"tr"},"mark":{"type":"rect","color":"#000"},"encoding":{"x":{"field":"o0","type":"quantitative","axis":{"title":"Time (s)","labels":false,"ticks":false,"domain":false}},"x2":{"field":"o1"},"y":{"datum":-0.2,"type":"quantitative","axis":{"values":[-0.2,-0.1,0,0.1,0.2,0.3,0.4,0.5,0.6,0.7,0.8,0.9,1,1.1,1.2,1.3,1.4,1.5],"format":"~g","labelExpr":"datum.value==0||datum.value==0.5||datum.value==1||datum.value==1.5?datum.label:''","title":"% signal change"}},"y2":{"datum":-0.325}}},
{"data":{"name":"tr"},"mark":{"type":"text","fontSize":12,"color":"#222","baseline":"middle","align":"center"},"encoding":{"x":{"field":"m","type":"quantitative","axis":{"title":"Time (s)","labels":false,"ticks":false,"domain":false}},"y":{"datum":-0.578,"type":"quantitative","axis":{"values":[-0.2,-0.1,0,0.1,0.2,0.3,0.4,0.5,0.6,0.7,0.8,0.9,1,1.1,1.2,1.3,1.4,1.5],"format":"~g","labelExpr":"datum.value==0||datum.value==0.5||datum.value==1||datum.value==1.5?datum.label:''","title":"% signal change"}},"text":{"field":"l"}}}]},
{"width":351,"height":84.5,"title":"MTG-bodies","layer":[
{"data":{"name":"tr"},"mark":{"type":"rule","color":"#444","strokeWidth":1},"encoding":{"x":{"field":"s0","type":"quantitative","scale":{"domain":[0,118],"nice":false,"zero":false},"axis":{"title":"Time (s)","labels":false,"ticks":false,"domain":false}},"x2":{"field":"s1"},"y":{"datum":0,"type":"quantitative","scale":{"domain":[-0.15,0.6],"nice":false,"zero":false},"axis":{"values":[-0.1,-0.05,0,0.05,0.1,0.15,0.2,0.25,0.3,0.35,0.4,0.45,0.5,0.55,0.6],"format":"~g","labelExpr":"datum.value==0||datum.value==0.2||datum.value==0.4||datum.value==0.6?datum.label:''","title":null}}}},
{"data":{"values":[{}]},"mark":{"type":"rule","color":"#333","strokeWidth":1},"encoding":{"x":{"datum":0,"type":"quantitative","axis":{"title":"Time (s)","labels":false,"ticks":false,"domain":false}},"y":{"datum":-0.1,"type":"quantitative","axis":{"values":[-0.1,-0.05,0,0.05,0.1,0.15,0.2,0.25,0.3,0.35,0.4,0.45,0.5,0.55,0.6],"format":"~g","labelExpr":"datum.value==0||datum.value==0.2||datum.value==0.4||datum.value==0.6?datum.label:''","title":null}},"y2":{"datum":0.6}}},
{"data":{"name":"MTG"},"transform":[{"fold":["g","r","b"],"as":["c","y"]},{"fold":["eg","er","eb"],"as":["ec","e"]},{"filter":"datum.ec == 'e' + datum.c"}],
"encoding":{"x":{"field":"x","type":"quantitative","axis":{"title":"Time (s)","labels":false,"ticks":false,"domain":false}},"y":{"field":"y","type":"quantitative","axis":{"values":[-0.1,-0.05,0,0.05,0.1,0.15,0.2,0.25,0.3,0.35,0.4,0.45,0.5,0.55,0.6],"format":"~g","labelExpr":"datum.value==0||datum.value==0.2||datum.value==0.4||datum.value==0.6?datum.label:''","title":null}},"color":{"field":"c","type":"nominal","legend":null},"detail":{"field":"s","type":"nominal"}},
"layer":[{"mark":{"type":"errorband","opacity":0.45,"interpolate":"monotone"},"encoding":{"yError":{"field":"e"}}},{"mark":{"type":"line","strokeWidth":2,"interpolate":"monotone"}}]},
{"data":{"name":"tr"},"mark":{"type":"rect","color":"#000"},"encoding":{"x":{"field":"o0","type":"quantitative","axis":{"title":"Time (s)","labels":false,"ticks":false,"domain":false}},"x2":{"field":"o1"},"y":{"datum":-0.08,"type":"quantitative","axis":{"values":[-0.1,-0.05,0,0.05,0.1,0.15,0.2,0.25,0.3,0.35,0.4,0.45,0.5,0.55,0.6],"format":"~g","labelExpr":"datum.value==0||datum.value==0.2||datum.value==0.4||datum.value==0.6?datum.label:''","title":null}},"y2":{"datum":-0.13}}},
{"data":{"name":"tr"},"mark":{"type":"text","fontSize":12,"color":"#222","baseline":"middle","align":"center"},"encoding":{"x":{"field":"m","type":"quantitative","axis":{"title":"Time (s)","labels":false,"ticks":false,"domain":false}},"y":{"datum":-0.231,"type":"quantitative","axis":{"values":[-0.1,-0.05,0,0.05,0.1,0.15,0.2,0.25,0.3,0.35,0.4,0.45,0.5,0.55,0.6],"format":"~g","labelExpr":"datum.value==0||datum.value==0.2||datum.value==0.4||datum.value==0.6?datum.label:''","title":null}},"text":{"field":"l"}}}]},
{"width":351,"height":84.5,"title":"pSTS-faces","layer":[
{"data":{"name":"tr"},"mark":{"type":"rule","color":"#444","strokeWidth":1},"encoding":{"x":{"field":"s0","type":"quantitative","scale":{"domain":[0,118],"nice":false,"zero":false},"axis":{"title":"Time (s)","labels":false,"ticks":false,"domain":false}},"x2":{"field":"s1"},"y":{"datum":0,"type":"quantitative","scale":{"domain":[-0.15,0.6],"nice":false,"zero":false},"axis":{"values":[-0.1,-0.05,0,0.05,0.1,0.15,0.2,0.25,0.3,0.35,0.4,0.45,0.5,0.55,0.6],"format":"~g","labelExpr":"datum.value==0||datum.value==0.2||datum.value==0.4||datum.value==0.6?datum.label:''","title":null}}}},
{"data":{"values":[{}]},"mark":{"type":"rule","color":"#333","strokeWidth":1},"encoding":{"x":{"datum":0,"type":"quantitative","axis":{"title":"Time (s)","labels":false,"ticks":false,"domain":false}},"y":{"datum":-0.1,"type":"quantitative","axis":{"values":[-0.1,-0.05,0,0.05,0.1,0.15,0.2,0.25,0.3,0.35,0.4,0.45,0.5,0.55,0.6],"format":"~g","labelExpr":"datum.value==0||datum.value==0.2||datum.value==0.4||datum.value==0.6?datum.label:''","title":null}},"y2":{"datum":0.6}}},
{"data":{"name":"pSTS"},"transform":[{"fold":["g","r","b"],"as":["c","y"]},{"fold":["eg","er","eb"],"as":["ec","e"]},{"filter":"datum.ec == 'e' + datum.c"}],
"encoding":{"x":{"field":"x","type":"quantitative","axis":{"title":"Time (s)","labels":false,"ticks":false,"domain":false}},"y":{"field":"y","type":"quantitative","axis":{"values":[-0.1,-0.05,0,0.05,0.1,0.15,0.2,0.25,0.3,0.35,0.4,0.45,0.5,0.55,0.6],"format":"~g","labelExpr":"datum.value==0||datum.value==0.2||datum.value==0.4||datum.value==0.6?datum.label:''","title":null}},"color":{"field":"c","type":"nominal","legend":null},"detail":{"field":"s","type":"nominal"}},
"layer":[{"mark":{"type":"errorband","opacity":0.45,"interpolate":"monotone"},"encoding":{"yError":{"field":"e"}}},{"mark":{"type":"line","strokeWidth":2,"interpolate":"monotone"}}]},
{"data":{"name":"tr"},"mark":{"type":"rect","color":"#000"},"encoding":{"x":{"field":"o0","type":"quantitative","axis":{"title":"Time (s)","labels":false,"ticks":false,"domain":false}},"x2":{"field":"o1"},"y":{"datum":-0.08,"type":"quantitative","axis":{"values":[-0.1,-0.05,0,0.05,0.1,0.15,0.2,0.25,0.3,0.35,0.4,0.45,0.5,0.55,0.6],"format":"~g","labelExpr":"datum.value==0||datum.value==0.2||datum.value==0.4||datum.value==0.6?datum.label:''","title":null}},"y2":{"datum":-0.13}}},
{"data":{"name":"tr"},"mark":{"type":"text","fontSize":12,"color":"#222","baseline":"middle","align":"center"},"encoding":{"x":{"field":"m","type":"quantitative","axis":{"title":"Time (s)","labels":false,"ticks":false,"domain":false}},"y":{"datum":-0.231,"type":"quantitative","axis":{"values":[-0.1,-0.05,0,0.05,0.1,0.15,0.2,0.25,0.3,0.35,0.4,0.45,0.5,0.55,0.6],"format":"~g","labelExpr":"datum.value==0||datum.value==0.2||datum.value==0.4||datum.value==0.6?datum.label:''","title":null}},"text":{"field":"l"}}}]}
]}
]
}
